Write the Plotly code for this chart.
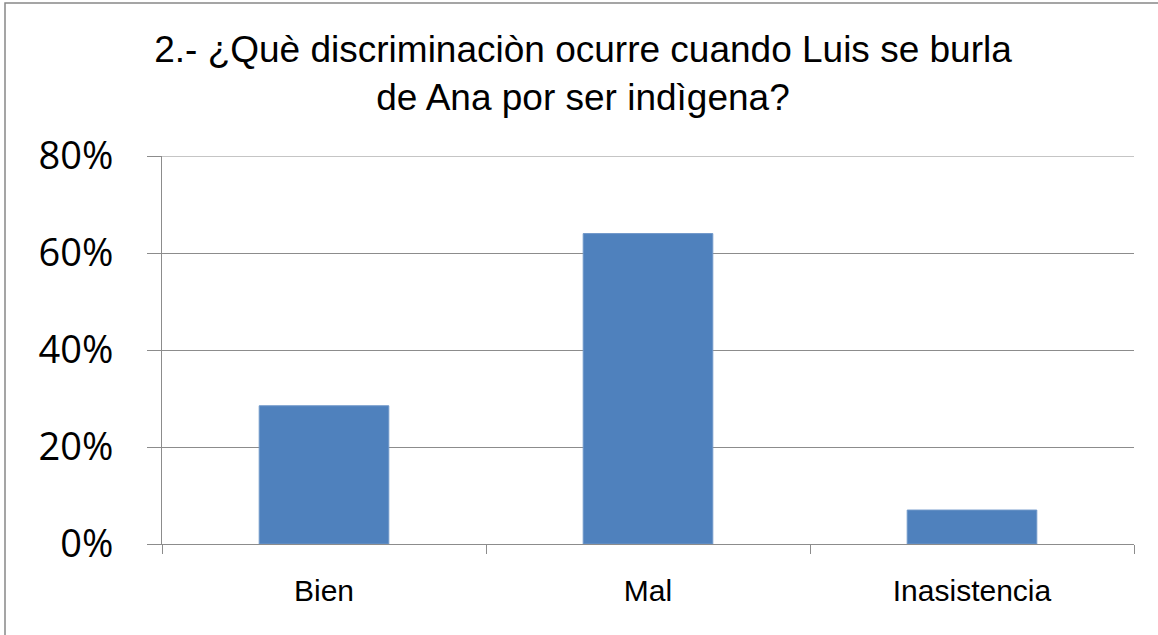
import plotly.graph_objects as go

categories = ["Bien", "Mal", "Inasistencia"]
values = [0.285, 0.64, 0.07]
y_ticks = [0, 0.2, 0.4, 0.6, 0.8]
title_text = "2.- ¿Què discriminaciòn ocurre cuando Luis se burla<br>de Ana por ser indìgena?"

W, H = 1158, 635
ml, mr, mt, mb = 162, 24, 156, 91
pw, ph = W - ml - mr, H - mt - mb

fig = go.Figure(go.Bar(
    x=categories, y=values, width=0.4,
    marker=dict(color="#4F81BD", line=dict(color="#6f97c9", width=1)),
    hoverinfo="x+y",
))

grey = "#8c8c8c"
fig.update_layout(
    width=W, height=H,
    margin=dict(l=ml, r=mr, t=mt, b=mb),
    paper_bgcolor="white", plot_bgcolor="white",
    showlegend=False,
    title=dict(text=title_text, x=583 / W, xref="container", xanchor="center",
               y=1 - 62 / H, yanchor="middle", yref="container",
               font=dict(family="Liberation Sans, Arial", size=37, color="black")),
    xaxis=dict(type="category", tickson="boundaries", ticks="outside", ticklen=9,
               tickcolor=grey, showline=True, linecolor=grey, linewidth=1,
               showgrid=False,
               tickfont=dict(family="Liberation Sans, Arial", size=30, color="black"),
               ticklabelstandoff=20),
    yaxis=dict(range=[0, max(y_ticks)], tickvals=y_ticks, tickformat=".0%",
               ticks="outside", ticklen=14, tickcolor=grey,
               showline=True, linecolor=grey, linewidth=1,
               showgrid=True, gridcolor=grey, gridwidth=1, zeroline=False,
               tickfont=dict(family="Open Sans, Liberation Sans", size=38, color="black"),
               ticklabelstandoff=26),
    shapes=[
        dict(type="rect", xref="paper", yref="paper",
             x0=(5 - ml) / pw, x1=(W + 10 - ml) / pw,
             y0=-(H + 10 - mt - ph) / ph, y1=(H - mb - 3) / ph,
             line=dict(color="#888888", width=1.5), layer="below"),
        # top gridline (plotly omits the gridline at the range edge)
        dict(type="line", xref="paper", yref="y",
             x0=-14 / pw, x1=1, y0=max(y_ticks), y1=max(y_ticks),
             line=dict(color=grey, width=1), layer="below"),
    ],
)

fig.write_html("out.html", config={"displayModeBar": False},
               post_script="document.body.style.margin='0';document.body.style.padding='0';")
